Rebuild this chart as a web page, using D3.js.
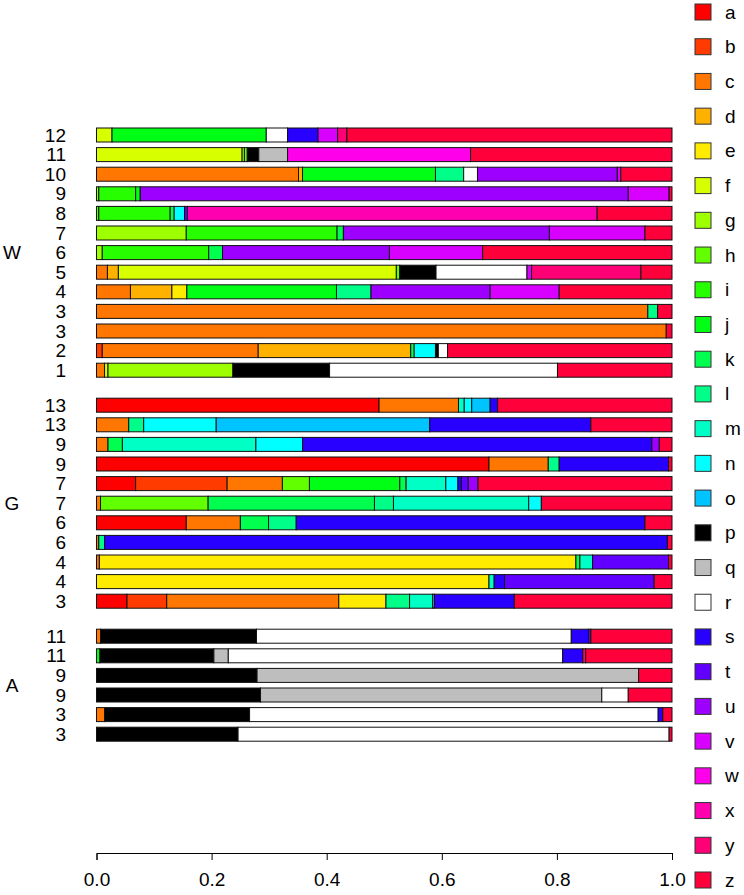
<!DOCTYPE html>
<html>
<head>
<meta charset="utf-8">
<script src="https://cdn.jsdelivr.net/npm/d3@7"></script>
<style>
  html, body { margin: 0; padding: 0; background: #fff; }
  svg { display: block; font-family: "Liberation Sans", Arial, Helvetica, sans-serif; }
</style>
</head>
<body>
<svg id="chart" width="744" height="895"></svg>
<script>
// ---- categories and palette (rainbow(26) with p,q,r replaced) ----
const categories = ["a","b","c","d","e","f","g","h","i","j","k","l","m","n","o","p","q","r","s","t","u","v","w","x","y","z"];
const palette = ["#FF0000","#FF3B00","#FF7600","#FFB100","#FFEB00","#D8FF00","#9DFF00","#62FF00","#27FF00","#00FF14",
                 "#00FF4E","#00FF89","#00FFC4","#00FFFF","#00C4FF","#000000","#BEBEBE","#FFFFFF","#2700FF","#6200FF",
                 "#9D00FF","#D800FF","#FF00EB","#FF00B1","#FF0076","#FF003B"];

// ---- groups (top to bottom) ----
const groupNames = ["W", "G", "A"];

// row labels per group, top to bottom
const labelsW = ["12","11","10","9","8","7","6","5","4","3","3","2","1"];
const labelsG = ["13","13","9","9","7","7","6","6","4","4","3"];
const labelsA = ["11","11","9","9","3","3"];

// each row: [category, cumulative end proportion]
const segW = [
  [["f",0.027],["j",0.295],["r",0.332],["s",0.385],["v",0.419],["y",0.435],["z",1]],
  [["f",0.253],["g",0.257],["h",0.262],["p",0.282],["q",0.332],["w",0.650],["z",1]],
  [["c",0.351],["d",0.358],["j",0.589],["l",0.638],["r",0.662],["u",0.905],["v",0.911],["z",1]],
  [["g",0.004],["i",0.068],["j",0.076],["u",0.924],["v",0.995],["z",1]],
  [["h",0.004],["i",0.128],["k",0.135],["n",0.153],["t",0.158],["x",0.870],["z",1]],
  [["g",0.156],["i",0.418],["k",0.429],["u",0.787],["v",0.953],["z",1]],
  [["g",0.010],["i",0.195],["k",0.219],["u",0.509],["v",0.671],["z",1]],
  [["c",0.019],["d",0.038],["f",0.521],["h",0.527],["p",0.590],["r",0.748],["v",0.756],["y",0.946],["z",1]],
  [["c",0.059],["d",0.131],["e",0.157],["j",0.417],["l",0.477],["u",0.684],["v",0.804],["z",1]],
  [["c",0.958],["l",0.975],["z",1]],
  [["c",0.990],["z",1]],
  [["b",0.010],["c",0.281],["d",0.546],["k",0.552],["n",0.589],["p",0.594],["r",0.610],["z",1]],
  [["c",0.014],["f",0.020],["g",0.237],["p",0.405],["r",0.801],["z",1]]
];
const segG = [
  [["a",0.491],["c",0.629],["m",0.639],["n",0.652],["o",0.684],["s",0.697],["z",1]],
  [["c",0.056],["l",0.082],["n",0.208],["o",0.579],["s",0.859],["z",1]],
  [["c",0.020],["k",0.045],["m",0.277],["n",0.358],["s",0.965],["u",0.978],["z",1]],
  [["a",0.682],["c",0.785],["l",0.804],["s",0.994],["z",1]],
  [["a",0.068],["b",0.227],["c",0.323],["h",0.370],["j",0.527],["k",0.538],["m",0.607],["n",0.628],["s",0.634],["t",0.646],["u",0.663],["z",1]],
  [["c",0.007],["h",0.194],["k",0.483],["l",0.516],["m",0.751],["n",0.773],["z",1]],
  [["a",0.156],["c",0.250],["k",0.299],["l",0.347],["s",0.953],["z",1]],
  [["c",0.004],["l",0.014],["s",0.992],["z",1]],
  [["c",0.005],["e",0.833],["k",0.840],["m",0.862],["t",0.994],["z",1]],
  [["e",0.682],["m",0.691],["s",0.709],["t",0.969],["z",1]],
  [["a",0.053],["b",0.122],["c",0.421],["e",0.503],["l",0.544],["m",0.584],["n",0.587],["s",0.726],["z",1]]
];
const segA = [
  [["c",0.007],["p",0.278],["r",0.825],["s",0.855],["t",0.859],["z",1]],
  [["j",0.006],["p",0.204],["q",0.229],["r",0.810],["s",0.845],["y",0.850],["z",1]],
  [["p",0.279],["q",0.942],["z",1]],
  [["p",0.285],["q",0.878],["r",0.924],["z",1]],
  [["c",0.014],["p",0.266],["r",0.976],["s",0.984],["z",1]],
  [["p",0.246],["r",0.995],["z",1]]
];

const xTicks = [0, 0.2, 0.4, 0.6, 0.8, 1.0];

// ---- build rows ----
const groupLabels = [labelsW, labelsG, labelsA];
const groupSegs = [segW, segG, segA];
const FS = 19;

const svg = d3.select("#chart");
svg.append("rect").attr("width", 744).attr("height", 895).attr("fill", "#fff");

const color = d3.scaleOrdinal().domain(categories).range(palette);
const x = d3.scaleLinear().domain([0, 1]).range([96.5, 672]);

// vertical layout in bar-width units: bar = 1, space between bars 0.4, between groups 1.5
const barUnit = 14;
const rows = [];
let pos = 0;
groupSegs.forEach((segs, gi) => {
  if (gi > 0) pos += 1.5 - 0.4;
  segs.forEach((s, ri) => {
    rows.push({ group: gi, label: groupLabels[gi][ri], segs: s, pos: pos });
    pos += 1.4;
  });
});
const y = d3.scaleLinear().domain([0, 1]).range([128, 128 + barUnit]);

const plot = svg.append("g");
rows.forEach(r => {
  let start = 0;
  const parts = r.segs.map(([cat, end]) => { const p = { cat, start, end }; start = end; return p; });
  const g = plot.append("g");
  g.selectAll("rect").data(parts).enter().append("rect")
    .attr("x", d => x(d.start))
    .attr("width", d => Math.max(0, x(d.end) - x(d.start)))
    .attr("y", y(r.pos))
    .attr("height", y(r.pos + 1) - y(r.pos))
    .attr("fill", d => color(d.cat))
    .attr("stroke", "#111")
    .attr("stroke-width", 1);
  svg.append("text")
    .attr("x", 66).attr("y", y(r.pos + 0.5))
    .attr("text-anchor", "end").attr("dominant-baseline", "central")
    .attr("font-size", FS).attr("fill", "#000")
    .text(r.label);
});

// group labels at middle of group
groupNames.forEach((name, gi) => {
  const gr = rows.filter(r => r.group === gi);
  const mid = (y(gr[0].pos) + y(gr[gr.length - 1].pos + 1)) / 2;
  svg.append("text")
    .attr("x", 12).attr("y", mid)
    .attr("text-anchor", "middle").attr("dominant-baseline", "central")
    .attr("font-size", FS).attr("fill", "#000")
    .text(name);
});

// x axis
const axis = d3.axisBottom(x).tickValues(xTicks).tickFormat(d3.format(".1f")).tickSize(7).tickPadding(13);
const ax = svg.append("g").attr("transform", "translate(0,853)").call(axis);
ax.select(".domain").attr("stroke", "#000");
ax.selectAll(".tick line").attr("stroke", "#000");
ax.selectAll(".tick text").attr("font-size", FS).attr("fill", "#000")
  .attr("font-family", "'Liberation Sans', Arial, Helvetica, sans-serif");

// legend
const ly = d3.scaleLinear().domain([0, categories.length - 1]).range([12, 880]);
const leg = svg.append("g");
categories.forEach((c, i) => {
  leg.append("rect")
    .attr("x", 695).attr("y", ly(i) - 8).attr("width", 16).attr("height", 16)
    .attr("fill", color(c)).attr("stroke", "#333").attr("stroke-width", 1);
  leg.append("text")
    .attr("x", 725).attr("y", ly(i))
    .attr("dominant-baseline", "central")
    .attr("font-size", FS).attr("fill", "#000")
    .text(c);
});
</script>
</body>
</html>
